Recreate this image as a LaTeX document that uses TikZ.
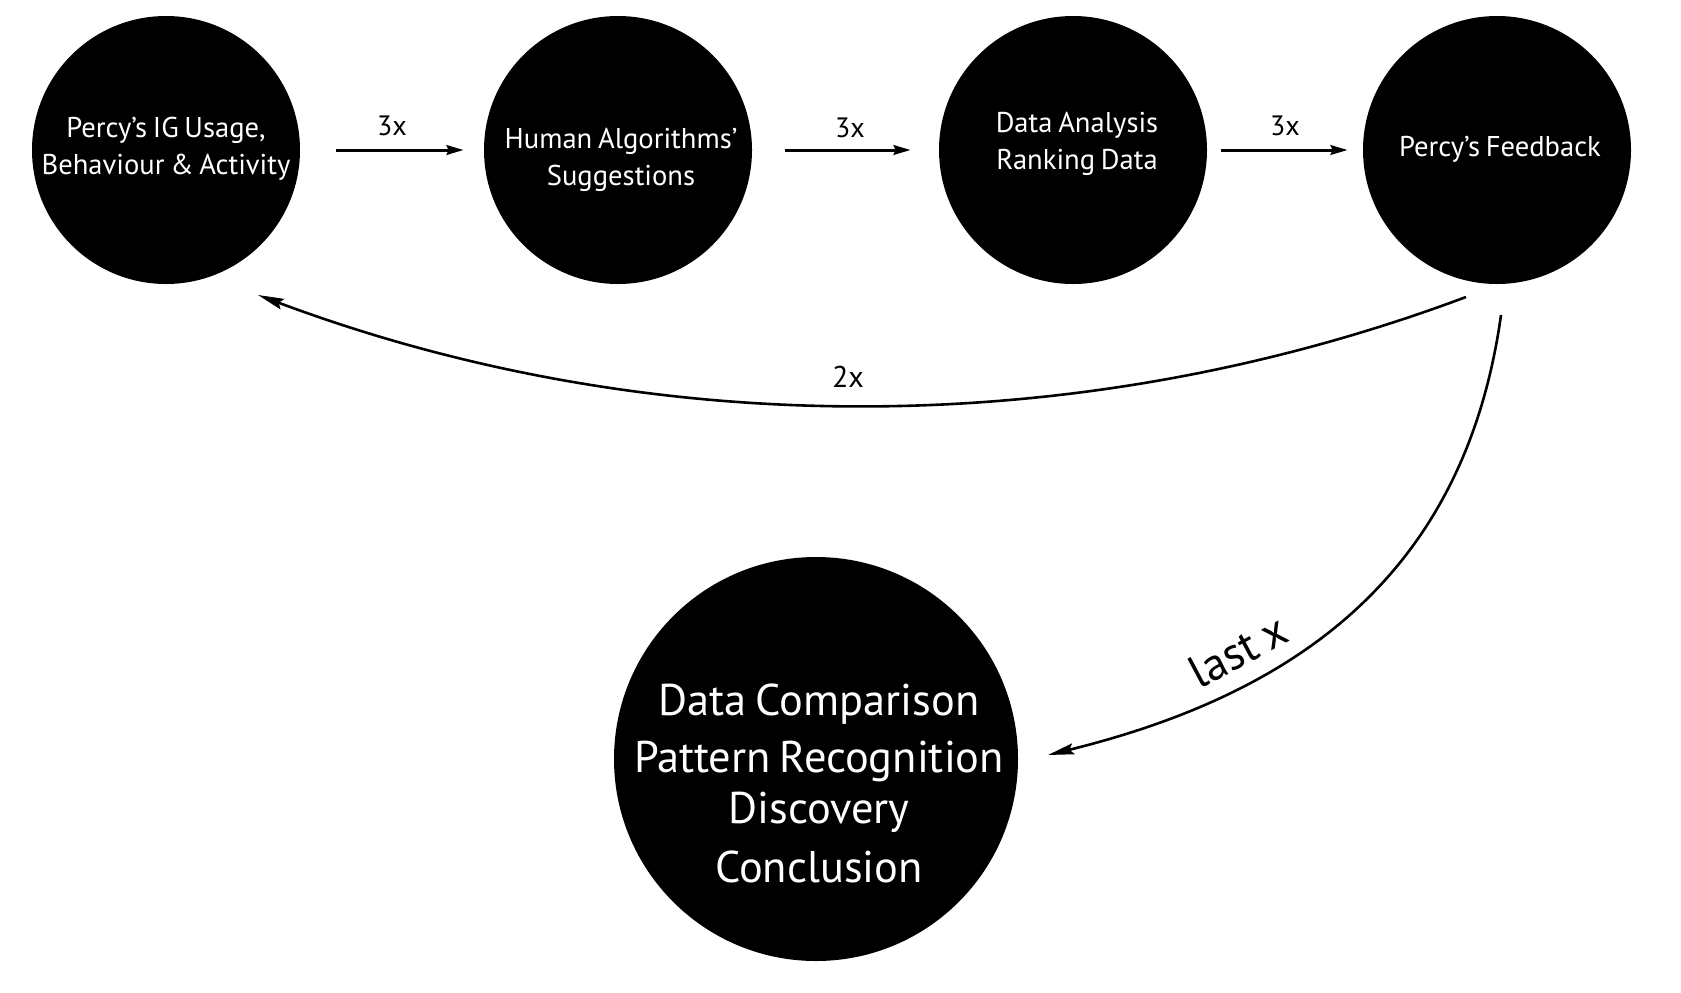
\documentclass[tikz,border=0pt]{standalone}
\usepackage{fontspec}
\setmainfont[WordSpace=0.75]{PT Sans}
\usetikzlibrary{arrows.meta,calc}

\begin{document}
\begin{tikzpicture}[x=0.5pt,y=-0.5pt,
  stage/.style={circle,fill=black,minimum size=134pt,inner sep=0pt},
  final/.style={circle,fill=black,minimum size=202pt,inner sep=0pt},
  intext/.style={text=white,font=\fontsize{14.3}{18.5}\selectfont,align=center},
  bigtext/.style={text=white,font=\fontsize{22.2}{27.8}\selectfont,align=center},
  flow/.style={line width=1.5pt,-{Stealth[length=8.5pt,width=4.8pt,inset=1pt]}},
  loop/.style={line width=1.3pt,-{Stealth[length=13pt,width=5.5pt,inset=2pt]}},
  count/.style={font=\fontsize{14}{16}\selectfont}
]
\useasboundingbox (0,0) rectangle (1681,992);

% the four stages of the cycle
\node[stage,label={[intext,yshift=0.5pt]center:Percy’s IG Usage,\\Behaviour \& Activity}] (c1) at (166,150) {};
\node[stage,label={[intext,xshift=1.5pt,yshift=-5pt]center:Human Algorithms’\\Suggestions}] (c2) at (618,150) {};
\node[stage,label={[intext,xshift=2pt,yshift=3pt]center:Data Analysis\\Ranking Data}] (c3) at (1073,150) {};
\node[stage,label={[intext,xshift=1.5pt,yshift=0.5pt]center:Percy’s Feedback}] (c4) at (1497,150) {};

% the outcome
\node[final,label={[bigtext,xshift=1.5pt,yshift=-12pt]center:Data Comparison\\[0.7pt]Pattern Recognition\\[-2.3pt]Discovery\\[1.7pt]Conclusion}] (big) at (816,759) {};

% forward arrows
\draw[flow,shorten <=18pt,shorten >=10pt] (c1) -- (c2);
\draw[flow,shorten <=16.5pt,shorten >=14pt] (c2) -- (c3);
\draw[flow,shorten <=7pt,shorten >=7.5pt] (c3) -- (c4);
\node[count] (n1) at (392,126) {3x};
\node[count] (n2) at (850,128) {3x};
\node[count] (n3) at (1285,126) {3x};

% loop back to the start
\coordinate (fbA) at ([shift={(-31,147)}]c4.center);
\coordinate (fbB) at ([shift={(92,145)}]c1.center);
\draw[loop] (fbA) .. controls +(-390,146) and +(390,146) .. (fbB);
\node[count,font=\fontsize{15}{17}\selectfont] (n4) at (848,377) {2x};

% final pass to the outcome
\coordinate (lastA) at ([shift={(4,165)}]c4.center);
\coordinate (lastB) at ([shift={(232,-4)}]big.center);
\draw[loop] (lastA) .. controls +(-36,257) and +(252,-62) .. (lastB);
\node[font=\fontsize{23}{25}\selectfont,rotate=28] (n5) at (1238,651) {last x};
\end{tikzpicture}
\end{document}
